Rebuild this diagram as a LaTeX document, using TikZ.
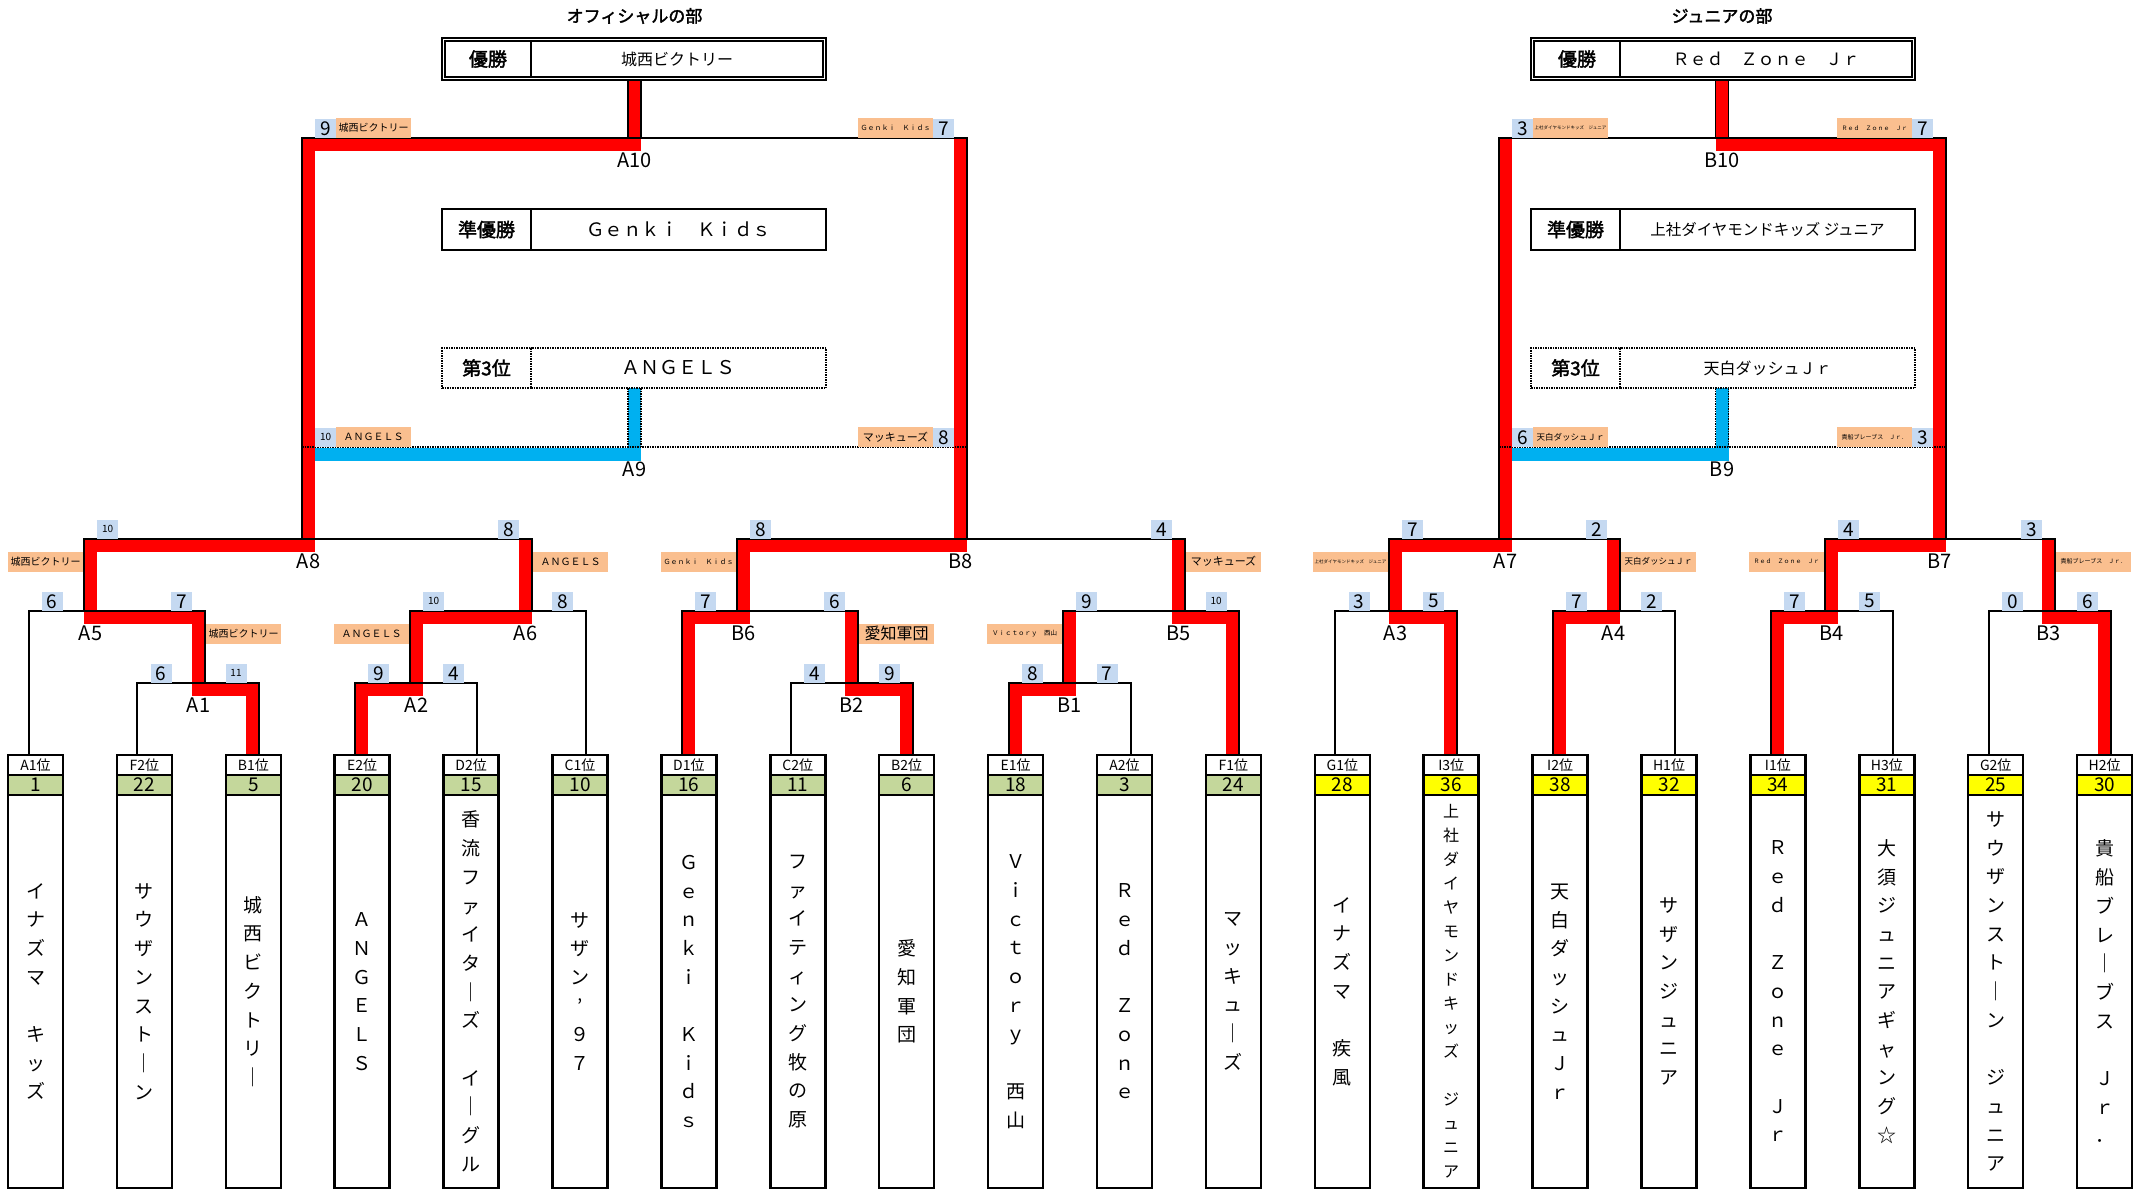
\documentclass[tikz,border=0pt]{standalone}
\usepackage{fontspec}
\setmainfont{Noto Sans CJK JP}
\newfontfamily\jpbold[FakeBold=2]{Noto Sans CJK JP}
\usetikzlibrary{positioning}

\definecolor{winred}{HTML}{FF0000}
\definecolor{bronzeblue}{HTML}{00B0F0}
\definecolor{scoreblue}{HTML}{C5D9F1}
\definecolor{teamorange}{HTML}{FABF8F}
\definecolor{seedgreen}{HTML}{C4D79B}
\definecolor{seedyellow}{HTML}{FFFF00}
\newcommand{\fsz}[1]{\fontsize{#1}{#1}\selectfont}

\tikzset{
  bline/.style={line width=2pt},
  dline/.style={line width=1.5pt, densely dotted},
  winband/.style={draw=winred, line width=13pt},
  bronzeband/.style={draw=bronzeblue, line width=13pt},
  score/.style={fill=scoreblue, minimum width=21pt, minimum height=19pt, inner sep=0pt, anchor=south west, font=\fsz{19}},
  tag/.style={fill=teamorange, minimum width=75pt, minimum height=20pt, inner sep=0pt},
  mlabel/.style={font=\fsz{20}},
  rankcell/.style={draw, line width=2.5pt, outer sep=0pt, minimum width=55pt, minimum height=20pt, inner sep=0pt, font=\fsz{14}},
  seedcell/.style={rankcell, font=\fsz{19}},
  namecell/.style={draw, line width=2.5pt, outer sep=0pt, minimum width=55pt, minimum height=393pt, inner sep=0pt, align=center},
  headcell/.style={draw, line width=2.5pt, outer sep=0pt, inner sep=0pt, font=\jpbold\fsz{19}},
  teamcell/.style={draw, line width=2.5pt, outer sep=0pt, inner sep=0pt},
}

\begin{document}
\begin{tikzpicture}[x=1pt,y=-1pt]
  \fill[white] (0,0) rectangle (2140,1190);
  \useasboundingbox (0,0) rectangle (2140,1190);

  % Titles
  \node[font=\jpbold\fsz{17}] (ttl1) at (634.5,16) {オフィシャルの部};
  \node[font=\jpbold\fsz{17}] (ttl2) at (1722,16) {ジュニアの部};

  % Leg and match points
  \foreach \i/\dx in {0/-7,1/-7,2/6,3/-7,4/6,5/6,6/-7,7/-7,8/6,9/-7,10/6,11/6,
                      12/-7,13/6,14/-7,15/6,16/-7,17/6,18/-7,19/6}
    \coordinate (leg\i) at ({35.5+108.9*\i+\dx},755);
  \foreach \m/\x/\y in {A1/205/683, A2/410/683, B2/858/683, B1/1063/683,
                        A5/84/611, A6/532/611, B6/737/611, B5/1185/611,
                        A8/302/539, B8/967/539, A10/634.5/138, A9/634.5/447,
                        A3/1389/611, A4/1620/611, B4/1825/611, B3/2055/611,
                        A7/1499/539, B7/1946/539, B10/1722/138, B9/1722/447}
    \coordinate (\m) at (\x,\y);
  \coordinate (ch1) at (634.5,80);
  \coordinate (ch2) at (1722,80);

  % Winner bands
  \foreach \xa/\ya/\yb/\xb/\yc in {
    252.8/755/689.5/198.5/611, 361.7/755/689.5/416.5/611,
    906.2/755/689.5/851.5/611, 1015.1/755/689.5/1069.5/611,
    198.5/624/617.5/90.5/539, 416.5/624/617.5/525.5/539,
    688.4/755/617.5/743.5/539, 1232.9/755/617.5/1178.5/539,
    90.5/552/545.5/308.5/138, 743.5/552/545.5/960.5/138,
    308.5/151/144.5/634.5/80,
    1450.7/755/617.5/1395.5/539, 1559.6/755/617.5/1613.5/539,
    1777.4/755/617.5/1831.5/539, 2104.1/755/617.5/2048.5/539,
    1395.5/552/545.5/1505.5/138, 1831.5/552/545.5/1939.5/138,
    1939.5/151/144.5/1722/80}
    \draw[winband] (\xa,\ya) -- (\xa,\yb) -- (\xb,\yb) -- (\xb,\yc);
  % 3rd place bands
  \draw[bronzeband] (315,454) -- (634.5,454) -- (634.5,388);
  \draw[bronzeband] (1512,454) -- (1722,454) -- (1722,388);

  % Brackets
  \draw[bline] (leg1) |- (A1) -| (leg2);
  \draw[bline] (leg3) |- (A2) -| (leg4);
  \draw[bline] (leg7) |- (B2) -| (leg8);
  \draw[bline] (leg9) |- (B1) -| (leg10);
  \draw[bline] (leg0) |- (A5) -| (A1);
  \draw[bline] (A2) |- (A6) -| (leg5);
  \draw[bline] (leg6) |- (B6) -| (B2);
  \draw[bline] (B1) |- (B5) -| (leg11);
  \draw[bline] (A5) |- (A8) -| (A6);
  \draw[bline] (B6) |- (B8) -| (B5);
  \draw[bline] (A8) |- (A10) -| (B8);
  \draw[bline] (leg12) |- (A3) -| (leg13);
  \draw[bline] (leg14) |- (A4) -| (leg15);
  \draw[bline] (leg16) |- (B4) -| (leg17);
  \draw[bline] (leg18) |- (B3) -| (leg19);
  \draw[bline] (A3) |- (A7) -| (A4);
  \draw[bline] (B4) |- (B7) -| (B3);
  \draw[bline] (A7) |- (B10) -| (B7);
  \draw[dline] (A8 |- A9) -- (B8 |- A9);
  \draw[dline] (A7 |- B9) -- (B7 |- B9);
  \foreach \x in {628,641,1715.5,1728.5} {
    \draw[line width=1.5pt] (\x,80) -- (\x,138);
    \draw[dline] (\x,388) -- (\x,447);
  }

  % Final boxes
  \node[headcell, minimum width=86pt, minimum height=36pt] (yh1) at (488,59) {優勝};
  \node[teamcell, minimum width=292pt, minimum height=36pt, right=0pt of yh1, font=\fsz{16}] (yt1) {城西ビクトリー};
  \draw[line width=1.5pt] ([shift={(-3pt,3pt)}]yh1.north west) rectangle ([shift={(3pt,-3pt)}]yt1.south east);
  \node[headcell, minimum width=89pt, minimum height=41pt] (rh1) at (486.5,229.5) {準優勝};
  \node[teamcell, minimum width=295pt, minimum height=41pt, right=0pt of rh1, font=\fsz{18.5}] (rt1) {Ｇｅｎｋｉ　Ｋｉｄｓ};
  \node[headcell, dline, minimum width=89pt, minimum height=40pt] (th1) at (486.5,368) {第3位};
  \node[teamcell, dline, minimum width=295pt, minimum height=40pt, right=0pt of th1, font=\fsz{19}] (tt1) {ＡＮＧＥＬＳ};

  \node[headcell, minimum width=86pt, minimum height=36pt] (yh2) at (1577,59) {優勝};
  \node[teamcell, minimum width=292pt, minimum height=36pt, right=0pt of yh2, font=\fsz{17}] (yt2) {Ｒｅｄ　Ｚｏｎｅ　Ｊｒ};
  \draw[line width=1.5pt] ([shift={(-3pt,3pt)}]yh2.north west) rectangle ([shift={(3pt,-3pt)}]yt2.south east);
  \node[headcell, minimum width=89pt, minimum height=41pt] (rh2) at (1575.5,229.5) {準優勝};
  \node[teamcell, minimum width=295pt, minimum height=41pt, right=0pt of rh2, font=\fsz{15.5}] (rt2) {上社ダイヤモンドキッズ ジュニア};
  \node[headcell, dline, minimum width=89pt, minimum height=40pt] (th2) at (1575.5,368) {第3位};
  \node[teamcell, dline, minimum width=295pt, minimum height=40pt, right=0pt of th2, font=\fsz{16}] (tt2) {天白ダッシュＪｒ};

  % Scores
  \foreach \nm/\x/\y/\t in {
    sA1l/150.4/683/6, sA1r/225.3/683/{\fsz{10}11}, sA2l/368.2/683/9, sA2r/443.1/683/4,
    sB2l/803.8/683/4, sB2r/878.7/683/9, sB1l/1021.6/683/8, sB1r/1096.5/683/7,
    sA5l/41.5/611/6, sA5r/171/611/7, sA6l/423/611/{\fsz{10}10}, sA6r/552/611/8,
    sB6l/694.9/611/7, sB6r/824/611/6, sB5l/1076/611/9, sB5r/1205.4/611/{\fsz{10}10},
    sA3l/1348.3/611/3, sA3r/1423.2/611/5, sA4l/1566.1/611/7, sA4r/1641/611/2,
    sB4l/1783.9/611/7, sB4r/1858.8/611/5, sB3l/2001.7/611/0, sB3r/2076.6/611/6,
    sA8l/97/539/{\fsz{10}10}, sA8r/498/539/8, sB8l/750/539/8, sB8r/1151/539/4,
    sA7l/1402/539/7, sA7r/1586/539/2, sB7l/1838/539/4, sB7r/2021/539/3,
    sA10l/315/138/9, sA10r/933/138/7, sB10l/1512/138/3, sB10r/1912/138/7,
    sA9l/315/447/{\fsz{10}10}, sA9r/933/447/8, sB9l/1512/447/6, sB9r/1912/447/3}
    \node[score] (\nm) at (\x,\y) {\t};

  % Team tags
  \foreach \nm/\x/\y/\f/\t in {
    oA10l/373.5/128/10/城西ビクトリー, oA10r/895.5/128/7/Ｇｅｎｋｉ　Ｋｉｄｓ,
    oA9l/373.5/437/10/ＡＮＧＥＬＳ, oA9r/895.5/437/11/マッキューズ,
    oB10l/1570.5/128/4.5/上社ダイヤモンドキッズ　ジュニア, oB10r/1874.5/128/6/Ｒｅｄ　Ｚｏｎｅ　Ｊｒ,
    oB9l/1570.5/437/8.5/天白ダッシュＪｒ, oB9r/1874.5/437/6/貴船ブレーブス　Ｊｒ．,
    oA8l/45.5/561.5/10/城西ビクトリー, oA8r/570.5/561.5/10/ＡＮＧＥＬＳ,
    oB8l/698.5/561.5/7/Ｇｅｎｋｉ　Ｋｉｄｓ, oB8r/1223.5/561.5/11/マッキューズ,
    oA7l/1350.5/561.5/4.5/上社ダイヤモンドキッズ　ジュニア, oA7r/1658.5/561.5/8.5/天白ダッシュＪｒ,
    oB7l/1786.5/561.5/6/Ｒｅｄ　Ｚｏｎｅ　Ｊｒ, oB7r/2093.5/561.5/6/貴船ブレーブス　Ｊｒ．,
    oA5r/243.5/633.5/10/城西ビクトリー, oA6l/371.5/633.5/10/ＡＮＧＥＬＳ,
    oB6r/896.5/633.5/16/愛知軍団, oB5l/1024.5/633.5/6.5/Ｖｉｃｔｏｒｙ　西山}
    \node[tag, font=\fsz{\f}] (\nm) at (\x,\y) {\t};

  % Match labels
  \foreach \m/\x/\y in {A1/198.5/705, A2/416.5/705, B2/851.5/705, B1/1069.5/705,
                        A5/90.5/633, A6/525.5/633, B6/743.5/633, B5/1178.5/633,
                        A8/308.5/561, B8/960.5/561, A10/634.5/160, A9/634.5/469,
                        A3/1395.5/633, A4/1613.5/633, B4/1831.5/633, B3/2048.5/633,
                        A7/1505.5/561, B7/1939.5/561, B10/1722/160, B9/1722/469}
    \node[mlabel] (l\m) at (\x,\y) {\m};

  % Seeded teams
  \foreach \i/\rk/\sd/\sc/\ft/\bl/\nm in {
    0/A1位/1/seedgreen/19/28.7/{イ\\ナ\\ズ\\マ\\　\\キ\\ッ\\ズ},
    1/F2位/22/seedgreen/19/28.7/{サ\\ウ\\ザ\\ン\\ス\\ト\\｜\\ン},
    2/B1位/5/seedgreen/19/28.7/{城\\西\\ビ\\ク\\ト\\リ\\｜},
    3/E2位/20/seedgreen/19/28.7/{Ａ\\Ｎ\\Ｇ\\Ｅ\\Ｌ\\Ｓ},
    4/D2位/15/seedgreen/19/28.7/{香\\流\\フ\\ァ\\イ\\タ\\｜\\ズ\\　\\イ\\｜\\グ\\ル},
    5/C1位/10/seedgreen/19/28.7/{サ\\ザ\\ン\\’\\９\\７},
    6/D1位/16/seedgreen/19/28.7/{Ｇ\\ｅ\\ｎ\\ｋ\\ｉ\\　\\Ｋ\\ｉ\\ｄ\\ｓ},
    7/C2位/11/seedgreen/19/28.7/{フ\\ァ\\イ\\テ\\ィ\\ン\\グ\\牧\\の\\原},
    8/B2位/6/seedgreen/19/28.7/{愛\\知\\軍\\団},
    9/E1位/18/seedgreen/19/28.7/{Ｖ\\ｉ\\ｃ\\ｔ\\ｏ\\ｒ\\ｙ\\　\\西\\山},
    10/A2位/3/seedgreen/19/28.7/{Ｒ\\ｅ\\ｄ\\　\\Ｚ\\ｏ\\ｎ\\ｅ},
    11/F1位/24/seedgreen/19/28.7/{マ\\ッ\\キ\\ュ\\｜\\ズ},
    12/G1位/28/seedyellow/19/28.7/{イ\\ナ\\ズ\\マ\\　\\疾\\風},
    13/I3位/36/seedyellow/16/24/{上\\社\\ダ\\イ\\ヤ\\モ\\ン\\ド\\キ\\ッ\\ズ\\　\\ジ\\ュ\\ニ\\ア},
    14/I2位/38/seedyellow/19/28.7/{天\\白\\ダ\\ッ\\シ\\ュ\\Ｊ\\ｒ},
    15/H1位/32/seedyellow/19/28.7/{サ\\ザ\\ン\\ジ\\ュ\\ニ\\ア},
    16/I1位/34/seedyellow/19/28.7/{Ｒ\\ｅ\\ｄ\\　\\Ｚ\\ｏ\\ｎ\\ｅ\\　\\Ｊ\\ｒ},
    17/H3位/31/seedyellow/19/28.7/{大\\須\\ジ\\ュ\\ニ\\ア\\ギ\\ャ\\ン\\グ\\☆},
    18/G2位/25/seedyellow/19/28.7/{サ\\ウ\\ザ\\ン\\ス\\ト\\｜\\ン\\　\\ジ\\ュ\\ニ\\ア},
    19/H2位/30/seedyellow/19/28.7/{貴\\船\\ブ\\レ\\｜\\ブ\\ス\\　\\Ｊ\\ｒ\\．}}{
    \node[rankcell, fill=white] (rk\i) at ({35.5+108.9*\i},765) {\rk};
    \node[seedcell, fill=\sc, below=0pt of rk\i] (sd\i) {\sd};
    \node[namecell, font=\fontsize{\ft}{\bl}\selectfont, below=0pt of sd\i] (nm\i) {\nm};
  }
\end{tikzpicture}
\end{document}
